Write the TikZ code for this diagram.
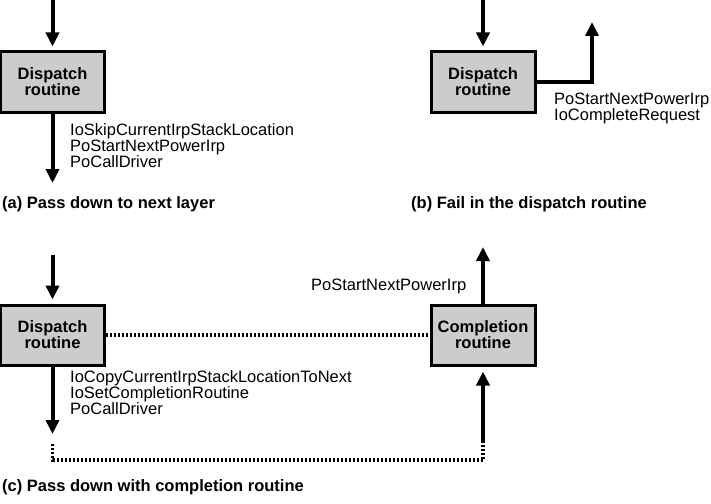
\documentclass[tikz,border=0pt]{standalone}
\usepackage{fontspec}
\setmainfont{Liberation Sans}
\usetikzlibrary{arrows.meta, positioning}

\tikzset{
  routine/.style = {draw, line width=3pt, fill=black!20, minimum width=104pt,
                    minimum height=60pt, inner sep=0pt, align=center,
                    font=\bfseries\fontsize{16.5}{16}\selectfont},
  calls/.style   = {inner sep=0pt, align=left, anchor=north west,
                    font=\fontsize{16.5}{16}\selectfont},
  caption/.style = {inner sep=0pt, anchor=base west,
                    font=\bfseries\fontsize{16.5}{16}\selectfont},
  flow/.style    = {line width=4pt, -{Triangle[length=14pt, width=13pt]}},
  back/.style    = {line width=3.5pt, dash pattern=on 2pt off 2pt}
}

\begin{document}
\begin{tikzpicture}[x=1pt, y=-1pt]
\useasboundingbox (0,0) rectangle (711,503);

% (a) pass down
\node (dispA) [routine] at (52.5,82) {Dispatch\\routine};
\coordinate (inA)  at (52.5,0);
\coordinate (outA) at (52.5,183);
\node (callsA) [calls] at (70,123)
  {IoSkipCurrentIrpStackLocation\\PoStartNextPowerIrp\\PoCallDriver};
\node (capA) [caption] at (2,208) {(a) Pass down to next layer};

\draw [flow, shorten >=4pt] (inA) -- (dispA);
\draw [flow] (dispA) -- (outA);

% (b) fail
\node (dispB) [routine] at (483,82) {Dispatch\\routine};
\coordinate (inB)  at (483,0);
\coordinate (upB)  at (592,22);
\node (callsB) [calls] at (554,93)
  {PoStartNextPowerIrp\\IoCompleteRequest};
\node (capB) [caption] at (411,208) {(b) Fail in the dispatch routine};

\draw [flow, shorten >=4pt] (inB) -- (dispB);
\draw [flow] (dispB.east) -| (upB);

% (c) completion routine
\node (dispC) [routine] at (52.5,335) {Dispatch\\routine};
\node (compC) [routine] at (483,335) {Completion\\routine};
\coordinate (inC)   at (52.5,255);
\coordinate (outC)  at (52.5,434);
\coordinate (loopL) at (52.5,444);
\coordinate (loopR) at (483,442);
\coordinate (upC)   at (483,247);
\node (callsC) [calls] at (70,370)
  {IoCopyCurrentIrpStackLocationToNext\\IoSetCompletionRoutine\\PoCallDriver};
\node (startC) [calls] at (311,279) {PoStartNextPowerIrp};
\node (capC) [caption] at (2,491) {(c) Pass down with completion routine};

\draw [flow, shorten >=4pt] (inC) -- (dispC);
\draw [flow] (dispC) -- (outC);
\draw [back] (dispC) -- (compC);
\draw [back] (loopL) -- (52.5,460) -- (483,460) -- (loopR);
\draw [flow, shorten >=5pt] (loopR) -- (compC);
\draw [flow] (compC) -- (upC);

\end{tikzpicture}
\end{document}
